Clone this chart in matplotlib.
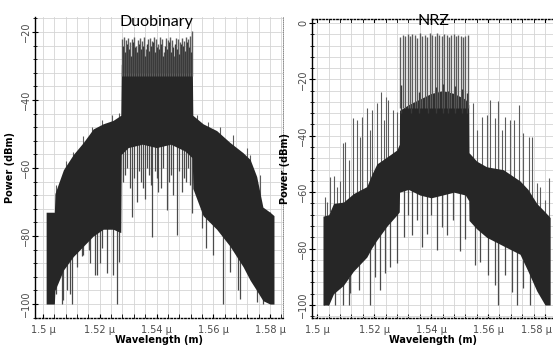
import numpy as np
import matplotlib.pyplot as plt
import matplotlib.transforms as mtransforms
from matplotlib.ticker import MultipleLocator, FixedLocator, FixedFormatter

# ---------------- Duobinary spectrum ----------------
duo_wl = [1.5011, 1.5040, 1.5042, 1.5072, 1.5107, 1.5142, 1.5177, 1.5212, 1.5247,
          1.5274, 1.5276, 1.5300, 1.5350, 1.5400, 1.5450, 1.5500, 1.5526, 1.5528,
          1.5564, 1.5612, 1.5659, 1.5705, 1.5730, 1.5753, 1.5775, 1.5800, 1.5814]
duo_top = [-73, -73, -67.5, -60.5, -56, -52.5, -48.5, -47, -46,
           -44.5, -29.5, -29, -30, -29.5, -30, -29, -29, -44.5,
           -47, -49, -52.5, -55.5, -57.5, -62.5, -71.5, -73, -74]
duo_bot = [-100, -100, -96, -90, -86, -83, -80, -78, -78,
           -79, -56, -54, -53, -54, -53, -55, -57, -66,
           -74, -78, -83, -89, -93, -96, -99, -100, -100]

# center comb peaks
duo_peak_wl = [1.5279, 1.5286, 1.5293, 1.5300, 1.5307, 1.5314, 1.5321, 1.5328, 1.5335,
               1.5342, 1.5349, 1.5356, 1.5363, 1.5370, 1.5377, 1.5384, 1.5391, 1.5398,
               1.5405, 1.5412, 1.5419, 1.5426, 1.5433, 1.5440, 1.5447, 1.5454, 1.5461,
               1.5468, 1.5475, 1.5482, 1.5489, 1.5496, 1.5503, 1.5510, 1.5517, 1.5524]
duo_peak = [-22, -21.5, -22.5, -21.8, -23, -22, -21.6, -24, -22.3,
            -21.8, -22.6, -21.5, -25, -22, -21.7, -22.8, -21.4, -22.2,
            -23.5, -21.6, -22, -26, -21.8, -22.5, -21.5, -22.4, -27,
            -21.7, -22.1, -23, -21.9, -22.6, -21.5, -22.2, -21.3, -19.8]
# weaker lines between the comb peaks
duo_mid_wl = [1.52825, 1.52895, 1.52965, 1.53035, 1.53105, 1.53175, 1.53245, 1.53315,
              1.53385, 1.53455, 1.53525, 1.53595, 1.53665, 1.53735, 1.53805, 1.53875,
              1.53945, 1.54015, 1.54085, 1.54155, 1.54225, 1.54295, 1.54365, 1.54435,
              1.54505, 1.54575, 1.54645, 1.54715, 1.54785, 1.54855, 1.54925, 1.54995,
              1.55065, 1.55135, 1.55205]
duo_mid = [-24, -26, -23.5, -25, -27, -23, -24.5, -26, -23.5, -25, -24, -27, -23.5,
           -25.5, -24, -23, -26, -24.5, -25, -23.5, -27, -24, -25, -23, -26,
           -24.5, -23.5, -25, -26.5, -23.5, -24, -25.5, -23, -24.5, -26]

# small peaks on the side lobes
duo_side_wl = [1.5046, 1.5080, 1.5107, 1.5140, 1.5172, 1.5207, 1.5242, 1.5269,
               1.5542, 1.5583, 1.5624, 1.5671, 1.5718, 1.5730, 1.5765, 1.5800]
duo_side = [-65, -58, -55.2, -50.5, -47.8, -45.9, -44.4, -43.9,
            -44.4, -46.4, -47.8, -50.3, -54.2, -56.2, -62, -72.8]

# nulls (downward lines)
duo_dip_wl = [1.5046, 1.5066, 1.5072, 1.5083, 1.5095, 1.5101, 1.5119, 1.5136, 1.5142,
              1.5163, 1.5166, 1.5183, 1.5189, 1.5201, 1.5207, 1.5224, 1.5248, 1.5260,
              1.5267, 1.5282, 1.5290, 1.5297, 1.5305, 1.5313, 1.5320, 1.5330, 1.5338,
              1.5345, 1.5352, 1.5360, 1.5366, 1.5372, 1.5379, 1.5385, 1.5393, 1.5400,
              1.5407, 1.5415, 1.5422, 1.5436, 1.5443, 1.5450, 1.5457, 1.5471, 1.5478,
              1.5489, 1.5496, 1.5505, 1.5512, 1.5519, 1.5524,
              1.5559, 1.5574, 1.5600, 1.5633, 1.5659, 1.5688, 1.5694, 1.5753, 1.5776]
duo_dip = [-96.9, -100, -98.8, -95.9, -97, -100, -89, -86, -85.6,
           -84, -88, -91.5, -91.5, -88, -83.6, -91, -91.5, -100,
           -87.6, -64, -62, -60, -66, -74.3, -63, -70, -61,
           -64, -66, -69, -60, -62, -65, -80.3, -61, -63,
           -67, -66, -60, -72.4, -64, -62, -68, -79.7, -61,
           -67, -63, -64, -60, -65, -73.3,
           -77.7, -83.5, -85.6, -100, -90.5, -95.9, -98.5, -99.4, -100]

# ---------------- NRZ spectrum ----------------
nrz_wl = [1.5020, 1.5040, 1.5057, 1.5092, 1.5127, 1.5174, 1.5190, 1.5209, 1.5245,
          1.5280, 1.5288, 1.5289, 1.5320, 1.5360, 1.5400, 1.5440, 1.5480, 1.5520,
          1.5532, 1.5533, 1.5560, 1.5595, 1.5653, 1.5712, 1.5740, 1.5771, 1.5800, 1.5818]
nrz_top = [-68.5, -68, -64, -63.5, -60.5, -58, -54, -50, -47.5,
           -45, -43, -31, -29, -27, -25, -24, -25, -27,
           -29, -46, -49, -51, -52, -56, -59, -64, -67, -69]
nrz_bot = [-100, -100, -96, -93, -88, -83, -80, -77, -72,
           -68, -67, -60, -59, -61, -62, -61, -60, -61,
           -63, -70, -73, -76, -79, -82, -88, -95, -100, -100]

nrz_peak_wl = [1.5291, 1.5300, 1.5308, 1.5317, 1.5326, 1.5334, 1.5343, 1.5351, 1.5361,
               1.5369, 1.5378, 1.5386, 1.5395, 1.5403, 1.5412, 1.5420, 1.5428, 1.5437,
               1.5446, 1.5454, 1.5462, 1.5471, 1.5479, 1.5488, 1.5496, 1.5505, 1.5513,
               1.5520, 1.5531]
nrz_peak = [-5, -4.3, -4.6, -4, -4.8, -3.8, -4.4, -5.2, -3.6,
            -4.5, -4.1, -4.9, -3.7, -4.4, -4.8, -3.5, -4.2, -4.6,
            -3.9, -4.4, -5, -4.1, -3.8, -4.7, -4.3, -4.5, -4.9,
            -4.6, -4.4]

nrz_mid_wl = [1.5295, 1.5330, 1.5356, 1.5390, 1.5416, 1.5441, 1.5458, 1.5483, 1.5510, 1.5526]
nrz_mid = [-22, -30, -24.5, -26, -22.6, -21.5, -24, -22.5, -23.5, -25]

nrz_side_wl = [1.5026, 1.5034, 1.5046, 1.5057, 1.5069, 1.5081, 1.5090, 1.5098, 1.5110,
               1.5127, 1.5139, 1.5149, 1.5157, 1.5174, 1.5184, 1.5192, 1.5209, 1.5223,
               1.5233, 1.5242, 1.5250, 1.5266, 1.5280,
               1.5548, 1.5562, 1.5578, 1.5595, 1.5607, 1.5625, 1.5636, 1.5648, 1.5660,
               1.5677, 1.5692, 1.5709, 1.5724, 1.5742, 1.5753, 1.5771, 1.5782, 1.5800, 1.5815]
nrz_side = [-61.6, -63.4, -54.5, -54.3, -58.3, -56, -42.7, -42.1, -48.7,
            -33.8, -34.4, -40.3, -33.2, -30.3, -38, -31, -28.5, -24.4,
            -34.4, -26.1, -27.3, -31, -31.7,
            -28.5, -37.9, -33.2, -32.6, -27.3, -33.6, -27.8, -37.9, -33.2,
            -34.4, -34.4, -29.1, -39.1, -40.3, -40.3, -56.9, -58, -62.8, -55.1]

nrz_dip_wl = [1.5025, 1.5036, 1.5063, 1.5092, 1.5110, 1.5116, 1.5145, 1.5186, 1.5204,
              1.5221, 1.5239, 1.5256, 1.5280, 1.5303, 1.5318, 1.5332, 1.5350, 1.5367,
              1.5385, 1.5400, 1.5420, 1.5438, 1.5455, 1.5475, 1.5502, 1.5519, 1.5554,
              1.5572, 1.5601, 1.5625, 1.5636, 1.5660, 1.5683, 1.5701, 1.5724, 1.5747]
nrz_dip = [-100, -100, -100, -100, -100, -95.9, -94.7, -100, -90,
           -94.7, -88.7, -86.4, -85.2, -75.8, -68, -75.3, -70, -79.3,
           -74.7, -68, -80.5, -72.3, -75.2, -70, -81, -76.5, -85.8,
           -84.6, -89.4, -93, -100, -89.4, -95.3, -100, -94, -100]

xticks = [1.50, 1.52, 1.54, 1.56, 1.58]
xtick_labels = ['1.5 \u00b5', '1.52 \u00b5', '1.54 \u00b5', '1.56 \u00b5', '1.58 \u00b5']

dark = '#262626'
spike = '#5c5c5c'

fig = plt.figure(figsize=(5.53, 3.5), dpi=100)
ax1 = fig.add_axes([34.5 / 553, 32 / 350, 248.5 / 553, 301 / 350])
ax2 = fig.add_axes([312.3 / 553, 32 / 350, 240.7 / 553, 299 / 350])


def draw_spectrum(ax, wl, top, bot, peaks, sides, dips, mids, mid_base):
    ax.fill_between(wl, bot, top, color=dark, lw=0, zorder=3)
    pw, ph, pbase = peaks
    ax.vlines(pw, pbase, ph, colors=spike, lw=1.0, zorder=4)
    ax.vlines(mids[0], mid_base, mids[1], colors='#3a3a3a', lw=1.0, zorder=4)
    sw, sh = sides
    sbase = np.interp(sw, wl, top) - 0.5
    ax.vlines(sw, sbase, sh, colors=spike, lw=0.8, zorder=2)
    dw, dh = dips
    dbase = np.interp(dw, wl, bot) + 0.5
    ax.vlines(dw, dh, dbase, colors='#4a4a4a', lw=0.9, zorder=2)


draw_spectrum(ax1, duo_wl, duo_top, duo_bot, (duo_peak_wl, duo_peak, -33),
              (duo_side_wl, duo_side), (duo_dip_wl, duo_dip), (duo_mid_wl, duo_mid), -32)
draw_spectrum(ax2, nrz_wl, nrz_top, nrz_bot, (nrz_peak_wl, nrz_peak, -30),
              (nrz_side_wl, nrz_side), (nrz_dip_wl, nrz_dip), (nrz_mid_wl, nrz_mid), -32)

ax1.set_xlim(1.49700, 1.58458)
ax1.set_ylim(-104.1, -15.6)
ax2.set_xlim(1.49825, 1.58280)
ax2.set_ylim(-104.6, 1.4)

for ax, yt in ((ax1, [-20, -40, -60, -80, -100]), (ax2, [0, -20, -40, -60, -80, -100])):
    ax.xaxis.set_major_locator(FixedLocator(xticks))
    ax.xaxis.set_major_formatter(FixedFormatter(xtick_labels))
    ax.xaxis.set_minor_locator(MultipleLocator(0.004))
    ax.set_yticks(yt)
    ax.yaxis.set_minor_locator(MultipleLocator(4))
    ax.grid(True, which='both', color='#d4d4d4', lw=0.6, zorder=0)
    ax.set_axisbelow(True)
    for lab in ax.get_yticklabels():
        lab.set_rotation(90)
        lab.set_va('center')
    ax.tick_params(axis='both', which='major', labelsize=7, labelcolor='#4a4a4a', width=0.8)
    ax.tick_params(axis='x', which='both', direction='in', length=3, pad=5)
    ax.tick_params(axis='y', which='major', direction='inout', length=4.5, pad=0.5)
    ax.tick_params(axis='y', which='minor', direction='inout', length=2.5, width=0.6)
    ax.spines['left'].set_linewidth(1.0)
    ax.spines['bottom'].set_linestyle((0, (1, 1.5)))
    ax.spines['bottom'].set_linewidth(1.0)
    ax.spines['right'].set_linestyle((0, (1, 1.5)))
    ax.spines['right'].set_linewidth(0.6)
    ax.spines['right'].set_color('#777777')
    ax.set_xlabel('Wavelength (m)', fontsize=7, fontweight='bold', labelpad=0)
    ax.set_ylabel('Power (dBm)', fontsize=7, fontweight='bold')

ax1.yaxis.set_label_coords(-0.078, 0.5)
ax2.yaxis.set_label_coords(-0.093, 0.5)

ax1.spines['top'].set_visible(False)
ax2.spines['top'].set_linestyle((0, (1, 1.5)))
ax2.spines['top'].set_linewidth(1.0)
ax2.tick_params(axis='x', which='both', top=True)

# the last wavelength label of the right panel sits at the figure edge
last = ax2.get_xticklabels()[-1]
last.set_horizontalalignment('right')
last.set_transform(last.get_transform() + mtransforms.ScaledTranslation(7 / 100, 0, fig.dpi_scale_trans))

ax1.text(0.49, 1.006, 'Duobinary', transform=ax1.transAxes, ha='center', va='top',
         fontsize=11.5, family='Lato', zorder=6)
ax2.text(0.505, 1.018, 'NRZ', transform=ax2.transAxes, ha='center', va='top',
         fontsize=11.5, family='Lato', zorder=6)

fig.savefig('out.png', dpi=100)
